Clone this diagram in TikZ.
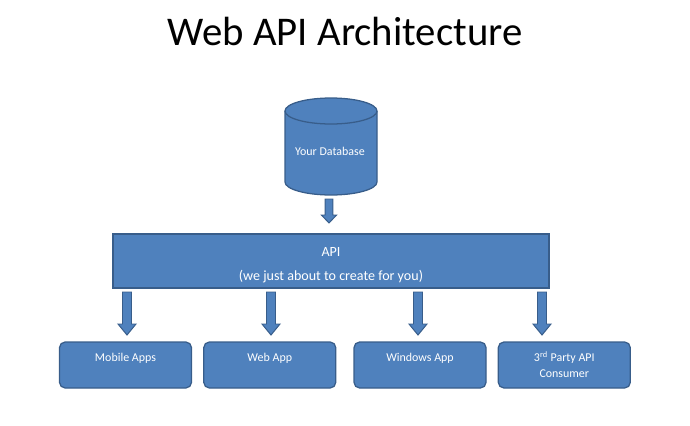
\documentclass[tikz,border=0pt]{standalone}
\usepackage{fontspec}
\setmainfont{Carlito}
\usepackage{xcolor}
\usepackage{tikz}
\usetikzlibrary{positioning, backgrounds, calc}
\definecolor{apiblue}{HTML}{4F81BD}
\definecolor{apiedge}{HTML}{385D8A}

% block arrow: top point, length, shaft half width, head half width, head length
\newcommand{\flowarrow}[5]{%
  \begin{scope}[shift={(#1)}]
    \draw[blockarrow] (-#3,0) -- (#3,0) -- (#3,{-(#2-#5)}) -- (#4,{-(#2-#5)})
      -- (0,-#2) -- (-#4,{-(#2-#5)}) -- (-#3,{-(#2-#5)}) -- cycle;
  \end{scope}}

\begin{document}
\begin{tikzpicture}[
    appbox/.style={draw=apiedge, fill=apiblue, line width=0.9pt, rounded corners=4pt,
      minimum width=3.3cm, minimum height=1.15cm, align=center, text=white,
      font=\fontsize{8.5}{11.4}\selectfont},
    apibox/.style={draw=apiedge, fill=apiblue, line width=0.9pt, minimum width=10.9cm,
      minimum height=1.35cm, align=center, text=white, font=\fontsize{10}{17}\selectfont},
    dbtext/.style={text=white, font=\fontsize{8.5}{11}\selectfont},
    dbshape/.style={draw=apiedge, fill=apiblue, line width=0.9pt},
    blockarrow/.style={draw=apiedge, fill=apiblue, line width=0.7pt},
    title/.style={font=\fontsize{29}{34}\selectfont},
]
\useasboundingbox (0,0) rectangle (17.25,-10.65);

% Title
\node[title, anchor=base] (title) at (8.625,-1.125) {Web API Architecture};

% Database
\node[dbtext] (db) at (8.25,-3.775) {Your Database};
\begin{scope}[on background layer]
  \draw[dbshape] (7.125,-2.775) -- (7.125,-4.55)
    arc[start angle=180, end angle=360, x radius=1.15, y radius=0.325]
    -- (9.425,-2.775)
    arc[start angle=0, end angle=180, x radius=1.15, y radius=0.325] -- cycle;
  \draw[dbshape, fill=none] (7.125,-2.775)
    arc[start angle=180, end angle=360, x radius=1.15, y radius=0.325];
\end{scope}

% API
\node[apibox] (api) at (8.275,-6.525) {\rule{0pt}{13pt}API\\(we just about to create for you)};

% Consumers
\node[appbox] (mobile) at (3.1375,-9.125) {Mobile Apps\\\mbox{}};
\node[appbox, right=0.275cm of mobile] (webapp) {Web App\\\mbox{}};
\node[appbox, right=0.425cm of webapp] (winapp) {Windows App\\\mbox{}};
\node[appbox, right=0.275cm of winapp] (party) {3\textsuperscript{rd} Party API\\Consumer};

% Arrows
\coordinate (dbout) at (8.225,-4.975);
\flowarrow{dbout}{0.6}{0.095}{0.19}{0.2}
\foreach \x/\n in {3.175/1, 6.775/2, 10.45/3, 13.55/4} {
    \coordinate (apiout\n) at (\x,-7.3);
    \flowarrow{apiout\n}{1.075}{0.1125}{0.225}{0.275}
}

\end{tikzpicture}
\end{document}
